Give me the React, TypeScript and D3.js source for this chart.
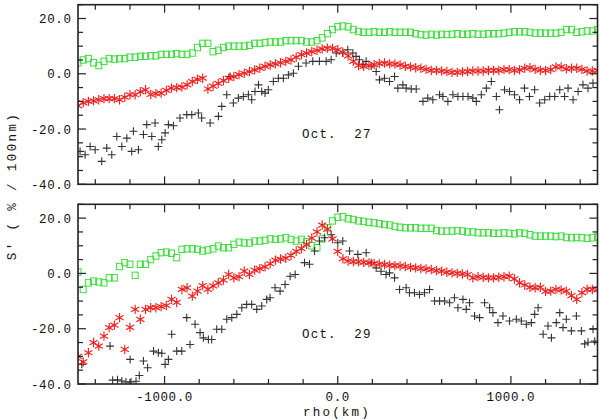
import React from "react";
import * as d3 from "d3";

// ---------- data ----------
// uniform rho sampling (km) shared by the green and red series
const rhoGrid: number[] = d3.range(-1500, 1501, 30);

const greenTop: number[] = [
  4, 5, 5.5, 4, 3, 4.5, 5.5, 5.3, 5.5, 5.5,
  6, 6, 6.3, 6.3, 6.5, 6.5, 7, 7, 7, 7.3,
  7, 7, 7.5, 9.5, 11, 11, 8, 8.5, 9.5, 10,
  10, 10, 10, 10.3, 11, 11, 11.3, 11.5, 11.5, 11.5,
  12, 12, 12, 12, 11.5, 11.5, 12, 13, 14.5, 16,
  17, 17.3, 17, 16, 15.3, 15, 15, 15.2, 15, 15,
  15.2, 15, 15, 15, 15, 14.5, 14.2, 14, 14.3, 14,
  14.3, 14.2, 14.3, 14.5, 14.3, 14.3, 14.5, 14.3, 14.3, 14.5,
  14.5, 14.5, 14.7, 15, 15.2, 15.2, 15.2, 15, 14.7, 14.7,
  14.7, 14.7, 14.7, 15, 16, 16, 15, 15.2, 15.5, 15.5,
  16,
];

const redTop: number[] = [
  -11.5, -10.5, -10, -9.8, -9.4, -9, -9, -9, -9.4, -8.5,
  -7.6, -7.6, -6.5, -5.8, -7.5, -7.2, -7, -6, -5.2, -5,
  -4.8, -4, -2.8, -2, -1.6, -5.5, -4.5, -3.5, -2.5, -1.6,
  -1, -0.3, 0.2, 0.8, 1.4, 2, 2.7, 3.2, 3.6, 4,
  4.5, 5, 6, 6.9, 7.5, 8, 8.5, 9, 9.3, 9.2,
  8.7, 7.8, 6.5, 4.5, 3, 2.7, 3, 3.3, 3.7, 3.9,
  3.6, 3.5, 3.2, 2.7, 2.5, 2.2, 2, 1.6, 1.2, 1.2,
  1, 0.8, 0.5, 0.5, 0.7, 0.8, 1, 1, 1, 1.2,
  1.2, 1.2, 1.5, 1.5, 1.2, 1.4, 2, 2.2, 1.6, 1.3,
  1.2, 1.5, 2.5, 2.5, 1.8, 2, 2, 1.6, 1, 1,
  1.2,
];

const blackTopRho: number[] = [
  -1488, -1459, -1430, -1401, -1363, -1334, -1305, -1276, -1247, -1218,
  -1190, -1180, -1151, -1122, -1103, -1074, -1055, -1036, -1016, -997,
  -978, -949, -911, -872, -843, -805, -786, -737, -689, -670,
  -641, -622, -603, -574, -545, -516, -497, -478, -458, -439,
  -420, -401, -372, -343, -314, -285, -256, -227, -183, -144,
  -106, -67, -38, -9, 29, 58, 87, 106, 125, 145,
  164, 193, 222, 241, 270, 299, 328, 347, 376, 395,
  424, 453, 492, 520, 549, 588, 607, 636, 665, 694,
  723, 752, 780, 800, 829, 858, 887, 916, 934, 963,
  992, 1021, 1050, 1078, 1107, 1137, 1166, 1195, 1224, 1253,
  1282, 1310, 1330, 1359, 1388, 1416, 1445, 1474,
];
const blackTop: number[] = [
  -28.1, -29.3, -26.3, -27.5, -31.7, -26.9, -29.3, -22.7, -26.3, -23.3,
  -28.1, -20.8, -27.5, -22, -18.4, -22.7, -17.8, -26.3, -23.9, -21.4,
  -18.4, -18.8, -16, -14.8, -14.8, -14.2, -16, -17.8, -15.4, -11.8,
  -7.6, -1, -10.6, -8.8, -8.2, -7.6, -9.4, -6.4, -4, -6.4,
  -7, -5.8, -2.8, -1.6, -1.6, -0.4, 0.2, 2.7, 3.9, 4.5,
  4.5, 4.5, 5.1, 7.5, 7.5, 8.7, 7.5, 6.3, 5.1, 3.3,
  4.5, 2.7, 0.8, -2.2, -1.6, -2.8, -1, -5.2, -4, -5.2,
  -5.5, -5.5, -10, -8.8, -9.4, -7.6, -8.2, -10, -7.6, -8.2,
  -8.2, -8.2, -8.8, -10, -7.6, -5.2, -2.8, -8.2, -13, -5.8,
  -6.4, -7.6, -9.4, -5.2, -8.2, -5.8, -10.6, -9.4, -8.2, -8.2,
  -5.8, -8.2, -5.2, -9.4, -6.4, -4, -5.2, -3.4,
];

const greenBottom: number[] = [
  0.5, -5.8, -3.4, -2.8, -3.1, -3.4, -1.6, -1.6, 2.5, 3.9,
  3.3, -0.7, 3.3, 3.3, 5, 6.3, 7.5, 7.7, 7.3, 5.7,
  8.7, 8.9, 8.9, 8.7, 8.1, 8.5, 8.9, 9.9, 9.3, 9.3,
  10.5, 11.3, 11, 11, 11.7, 11.7, 12, 12.5, 12.3, 12.5,
  12.9, 12.3, 11.7, 12.3, 11.5, 10, 9.3, 12.5, 16.5, 19,
  20.3, 20.5, 19.8, 19.5, 19, 18.8, 18.5, 18.3, 18, 17.7,
  17.5, 17, 16.7, 16.5, 16.5, 16.5, 16.3, 16.3, 16.3, 15.5,
  15.3, 15.3, 15.3, 15.5, 15.3, 15, 15, 14.7, 14.7, 14.7,
  14.5, 14.5, 14.7, 14.5, 14.3, 14.7, 14.5, 14, 13.5, 13.5,
  13.5, 13.5, 13.3, 13.5, 13, 12.9, 13, 12.9, 12.7, 12.9,
  13.2,
];

const redBottom: number[] = [
  -30, -32, -28.7, -25, -26.3, -22.7, -19.6, -18.7, -16, -27.5,
  -19.5, -13, -16.6, -13, -12.4, -12.4, -12, -11.6, -9.4, -10.5,
  -5.8, -5.2, -8.2, -6.4, -4.4, -5.8, -4.5, -3.4, -2.4, -0.4,
  -1.6, -1.2, 0.8, -0.4, 1.2, 1.7, 2.4, 3.5, 4.8, 5.2,
  5.5, 6.5, 8, 9, 10.5, 12.8, 15, 17.5, 16, 12.5,
  8, 5.3, 4.5, 4.3, 4.2, 4, 3.8, 3.6, 3.4, 3.2,
  3, 2.8, 2.7, 2.5, 2.2, 2, 1.8, 1.6, 1.4, 1,
  0.8, 0.4, 0.2, 0, -0.2, -0.4, -1.6, -1.2, -1.4, -1.6,
  -1.6, -1.4, -1.2, -1, -2, -3.4, -4.2, -5, -5.2, -5,
  -6.5, -6.4, -5.8, -6, -6.4, -8, -9.4, -7, -5.8, -5.8,
  -6,
];

const blackBottomRho: number[] = [
  -1478, -1315, -1300, -1272, -1247, -1223, -1199, -1194, -1165, -1146,
  -1122, -1098, -1064, -1036, -1016, -997, -978, -959, -930, -901,
  -872, -853, -824, -795, -776, -747, -728, -699, -670, -641,
  -612, -583, -554, -526, -497, -468, -439, -410, -391, -362,
  -333, -304, -275, -246, -192, -163, -134, -106, -77, -38,
  0, 29, 68, 116, 164, 193, 222, 250, 279, 299,
  328, 357, 395, 414, 443, 472, 501, 530, 559, 588,
  617, 646, 674, 694, 723, 742, 761, 790, 819, 848,
  877, 896, 925, 954, 992, 1031, 1060, 1089, 1118, 1137,
  1157, 1186, 1214, 1234, 1262, 1282, 1301, 1320, 1349, 1378,
  1407, 1426, 1445, 1474, 1484,
];
const blackBottom: number[] = [
  -32.9, -26.3, -38.6, -38.5, -38.9, -39.3, -31.1, -39.3, -39, -36.9,
  -31.7, -34.1, -28.1, -28.7, -28.9, -32.9, -31.1, -22, -28.1, -28.1,
  -16, -25.7, -18.4, -21.4, -23.3, -23.9, -23.9, -20.2, -20.2, -16.6,
  -16, -14.8, -12.4, -11.2, -11.2, -13, -11.8, -9.4, -8.8, -5.2,
  -6.4, -4, -1, -0.4, 3.9, 3.3, 8.1, 11.7, 12.9, 14,
  11.1, 11.7, 8.1, 6.9, 7.5, 3.9, 2, 0.8, -0.4, 0.2,
  -1.6, -5.8, -5.2, -7, -7, -7.6, -7, -5.8, -10, -10,
  -10, -10.6, -8.8, -12.4, -9.4, -13, -10.6, -15.4, -16, -10.6,
  -12.4, -14.2, -17.8, -15.4, -17.2, -16.6, -17.2, -18.4, -17.8, -14.8,
  -12.4, -22, -19, -23.3, -17.8, -14.2, -19.6, -16.6, -20.8, -15.4,
  -20.8, -25.5, -24.9, -20.2, -24.5,
];

const xLabelTicks: number[] = [-1000, 0, 1000];
const yLabelTicks: number[] = [-40, -20, 0, 20];
const panelLabels: string[] = ["Oct.  27", "Oct.  29"];

// ---------- layout ----------
const W = 600;
const H = 419;
const LEFT = 78;
const RIGHT = 597.5;
const PANELS = [
  { top: 4.7, bottom: 184.3 },
  { top: 204.3, bottom: 384 },
];
const FONT = "'Liberation Mono', 'DejaVu Sans Mono', monospace";
const GREEN = "#3ddc3d";
const RED = "#f02020";
const BLACK = "#333";

const x = d3.scaleLinear().domain([-1500, 1500]).range([LEFT, RIGHT]);

function Square({ cx, cy }: { cx: number; cy: number }) {
  return <rect x={cx - 3} y={cy - 3.2} width={6} height={6.4} fill="none" stroke={GREEN} strokeWidth={1} />;
}
function Asterisk({ cx, cy }: { cx: number; cy: number }) {
  const r = 4.7;
  const a = r * Math.cos(Math.PI / 6);
  const b = r * Math.sin(Math.PI / 6);
  return (
    <path
      d={`M${cx},${cy - r}L${cx},${cy + r}M${cx - a},${cy - b}L${cx + a},${cy + b}M${cx - a},${cy + b}L${cx + a},${cy - b}`}
      stroke={RED}
      strokeWidth={1.15}
      fill="none"
    />
  );
}
function Plus({ cx, cy }: { cx: number; cy: number }) {
  const r = 4;
  return <path d={`M${cx - r},${cy}L${cx + r},${cy}M${cx},${cy - r}L${cx},${cy + r}`} stroke={BLACK} strokeWidth={1.1} fill="none" />;
}

function Panel({ idx, green, red, bRho, bVal, label, showX }: any) {
  const { top, bottom } = PANELS[idx];
  const y = d3.scaleLinear().domain([-40, 25]).range([bottom, top]);
  const clipId = `clip${idx}`;
  const xTicks = x.ticks(15);
  const yTicks = y.ticks(13);
  const isMajorX = (v: number) => xLabelTicks.includes(v);
  const isMajorY = (v: number) => yLabelTicks.includes(v);
  return (
    <g>
      <defs>
        <clipPath id={clipId}>
          <rect x={LEFT} y={top} width={RIGHT - LEFT} height={bottom - top} />
        </clipPath>
      </defs>
      <g clipPath={`url(#${clipId})`}>
        {rhoGrid.map((r, i) => (green[i] == null ? null : <Square key={"g" + i} cx={x(r)} cy={y(green[i])} />))}
        {bRho.map((r: number, i: number) => <Plus key={"b" + i} cx={x(r)} cy={y(bVal[i])} />)}
        {rhoGrid.map((r, i) => (red[i] == null ? null : <Asterisk key={"r" + i} cx={x(r)} cy={y(red[i])} />))}
      </g>
      {xTicks.map((t) => {
        const len = isMajorX(t) ? 8 : 5;
        const px = x(t);
        return (
          <g key={"xt" + t}>
            <line x1={px} x2={px} y1={bottom} y2={bottom - len} stroke="#222" strokeWidth={1.2} />
            <line x1={px} x2={px} y1={top} y2={top + len} stroke="#222" strokeWidth={1.2} />
          </g>
        );
      })}
      {yTicks.map((t) => {
        const len = isMajorY(t) ? 8 : 5;
        const py = y(t);
        return (
          <g key={"yt" + t}>
            <line x1={LEFT} x2={LEFT + len} y1={py} y2={py} stroke="#222" strokeWidth={1.2} />
            <line x1={RIGHT} x2={RIGHT - len} y1={py} y2={py} stroke="#222" strokeWidth={1.2} />
          </g>
        );
      })}
      <rect x={LEFT} y={top} width={RIGHT - LEFT} height={bottom - top} fill="none" stroke="#222" strokeWidth={1.6} />
      {yLabelTicks.map((t) => (
        <text key={"yl" + t} x={71.5} y={y(t)} dy="0.36em" textAnchor="end" fontFamily={FONT} fontSize={12.5} letterSpacing={0.6} fill="#111">
          {t.toFixed(1)}
        </text>
      ))}
      {showX &&
        xLabelTicks.map((t) => (
          <text key={"xl" + t} x={x(t)} y={400.5} textAnchor="middle" fontFamily={FONT} fontSize={12.5} letterSpacing={0.6} fill="#111">
            {t.toFixed(1)}
          </text>
        ))}
      <text x={302} y={y(-20) + 9} fontFamily={FONT} fontSize={12.5} letterSpacing={1.2} fill="#111" style={{ whiteSpace: "pre" }}>
        {label}
      </text>
    </g>
  );
}

export default function App() {
  return (
    <svg width={W} height={H} viewBox={`0 0 ${W} ${H}`} style={{ position: "absolute", left: 0, top: 0, background: "#fff" }}>
      <rect x={0} y={0} width={W} height={H} fill="#fff" />
      <Panel idx={0} green={greenTop} red={redTop} bRho={blackTopRho} bVal={blackTop} label={panelLabels[0]} showX={false} />
      <Panel idx={1} green={greenBottom} red={redBottom} bRho={blackBottomRho} bVal={blackBottom} label={panelLabels[1]} showX={true} />
      <text
        transform="translate(16,186) rotate(-90)"
        textAnchor="middle"
        fontFamily={FONT}
        fontSize={12.5}
        letterSpacing={2.4}
        fill="#111"
        style={{ whiteSpace: "pre" }}
      >
        {"S' ( % / 100nm)"}
      </text>
      <text x={337} y={416} textAnchor="middle" fontFamily={FONT} fontSize={12.5} letterSpacing={2.2} fill="#111">
        rho(km)
      </text>
    </svg>
  );
}
